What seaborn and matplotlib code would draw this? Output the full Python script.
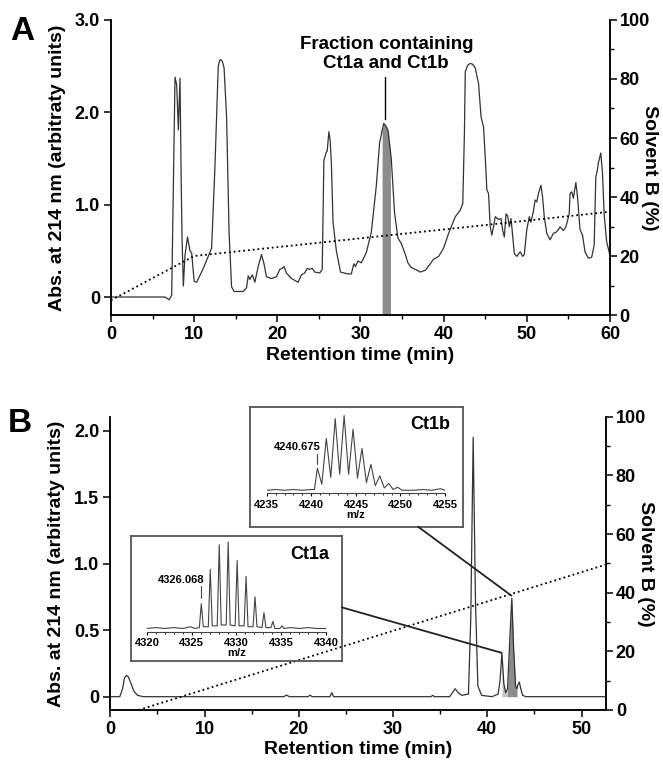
import numpy as np
import pandas as pd
import seaborn as sns
from matplotlib import pyplot as plt
from matplotlib.patches import ConnectionPatch
from matplotlib.ticker import MultipleLocator

# Panel A: preparative chromatogram (time in min, absorbance)
t_a = [0, 6.5, 7.0, 7.3, 7.5, 7.7, 7.9, 8.1, 8.3, 8.45, 8.55, 8.7, 8.9, 9.2, 9.5, 9.7,
       10.0, 10.3, 11.1, 12.1, 12.5, 12.9, 13.05, 13.2, 13.4, 13.6, 13.9, 14.2, 14.5, 14.8,
       15.9, 16.3, 16.5, 16.7, 17.0, 17.3, 17.7, 18.1, 18.4, 18.7, 19.3, 19.9, 20.3, 20.6,
       20.8, 21.1, 21.7, 22.5, 22.9, 23.3, 23.6, 23.9, 24.2, 24.5, 25.1, 25.4, 25.6,
       25.9, 26.0, 26.2, 26.35, 26.5, 26.7, 27.1, 27.6, 28.5, 28.9, 29.2, 29.4, 29.7,
       30.1, 30.7, 31.3, 31.9, 32.3, 32.6, 32.8, 33.0, 33.3, 33.6, 33.7, 34.1, 34.5,
       34.9, 35.4, 35.7, 36.1, 36.8, 37.2, 37.8, 38.4, 38.8, 39.4, 40.0, 40.6, 41.4,
       42.0, 42.3, 42.5, 42.6, 42.9, 43.2, 43.5, 43.8, 44.2, 44.5, 44.8, 45.0, 45.2,
       45.4, 45.6, 45.8, 46.1, 46.2, 46.6, 46.9, 47.1, 47.3, 47.5, 47.7, 47.9, 48.1,
       48.2, 48.5, 48.8, 49.2, 49.5, 49.7, 50.0, 50.3, 50.5, 50.8, 51.0, 51.2, 51.4,
       51.7, 51.9, 52.1, 52.4, 52.8, 53.2, 53.5, 53.8, 54.0, 54.4, 54.7, 55.1, 55.2,
       55.4, 55.6, 55.9, 56.1, 56.4, 56.7, 57.0, 57.4, 57.8, 58.1, 58.3, 58.5, 58.6,
       58.9, 59.1, 59.3, 59.6, 60.0]
abs_a = [0.0, 0.0, -0.03, 0.02, 1.2, 2.38, 2.30, 1.81, 2.37, 1.2, 0.62, 0.12, 0.45, 0.65,
         0.5, 0.48, 0.17, 0.16, 0.31, 0.53, 1.41, 2.50, 2.56, 2.57, 2.55, 2.48, 1.95, 0.70,
         0.11, 0.06, 0.06, 0.10, 0.23, 0.19, 0.24, 0.16, 0.33, 0.46, 0.36, 0.22, 0.20,
         0.22, 0.30, 0.31, 0.33, 0.26, 0.20, 0.16, 0.24, 0.26, 0.31, 0.30, 0.31, 0.27,
         0.26, 0.30, 1.48, 1.57, 1.58, 1.79, 1.70, 1.45, 0.81, 0.50, 0.27, 0.25, 0.25,
         0.36, 0.33, 0.39, 0.37, 0.48, 0.70, 1.20, 1.67, 1.80, 1.88, 1.86, 1.81, 1.58,
         1.50, 0.91, 0.64, 0.58, 0.46, 0.37, 0.32, 0.29, 0.27, 0.29, 0.36, 0.41, 0.44,
         0.53, 0.69, 0.87, 0.94, 1.01, 1.78, 2.44, 2.51, 2.53, 2.52, 2.48, 2.31, 1.95,
         1.84, 1.52, 1.16, 1.12, 0.76, 0.67, 0.81, 0.87, 0.84, 0.85, 0.72, 0.65, 0.90,
         0.88, 0.76, 0.85, 0.76, 0.47, 0.44, 0.49, 0.44, 0.46, 0.73, 0.87, 0.81, 0.93,
         1.05, 1.03, 1.12, 1.21, 1.08, 0.87, 0.69, 0.62, 0.69, 0.70, 0.73, 0.76, 0.72,
         0.76, 0.90, 1.12, 1.14, 1.07, 1.24, 1.08, 0.73, 0.67, 0.49, 0.42, 0.43, 0.56,
         1.30, 1.38, 1.45, 1.56, 1.34, 0.90, 0.60, 0.45]
grad_t_a = [0, 10, 60]
grad_b_a = [5, 20, 35]
fraction_a = (32.6, 33.6)

# Panel B: analytical chromatogram
t_b = [0, 1.0, 1.3, 1.5, 1.7, 1.9, 2.2, 2.5, 2.9, 3.5, 18.4, 18.7, 19.0, 21.0, 21.2, 21.4,
       23.3, 23.5, 23.7, 34.0, 34.2, 34.4, 36.0, 36.3, 36.6, 36.9, 37.3, 38.0, 38.25,
       38.5, 38.75, 39.0, 39.4, 40.5, 41.15, 41.35, 41.55, 41.75, 41.95, 42.15, 42.4,
       42.6, 42.8, 43.0, 43.15, 43.25, 43.4, 43.55, 43.75, 44.1, 53.0]
abs_b = [0.0, 0.0, 0.06, 0.14, 0.16, 0.15, 0.10, 0.04, 0.01, 0.0, 0.0, 0.012, 0.0, 0.0,
         0.012, 0.0, 0.0, 0.03, 0.0, 0.0, 0.01, 0.0, 0.0, 0.03, 0.06, 0.03, 0.01, 0.02,
         0.6, 1.95, 0.7, 0.08, 0.01, 0.0, 0.02, 0.12, 0.33, 0.10, 0.03, 0.06, 0.45, 0.74,
         0.35, 0.08, 0.06, 0.09, 0.11, 0.06, 0.01, 0.0, 0.0]
grad_t_b = [3, 53]
grad_b_b = [0, 50]
fill_light_b = (41.55, 42.15)
fill_dark_b = (42.15, 43.2)

# Mass spectra insets (m/z, relative intensity)
mz_a = [4320.0, 4321.0, 4322.0, 4323.0, 4324.0, 4324.9, 4325.3, 4325.85, 4326.07, 4326.29,
        4326.85, 4327.07, 4327.29, 4327.85, 4328.07, 4328.29, 4328.85, 4329.07, 4329.29,
        4329.85, 4330.07, 4330.29, 4330.85, 4331.07, 4331.29, 4331.85, 4332.07, 4332.29,
        4332.85, 4333.07, 4333.29, 4333.85, 4334.07, 4334.29, 4334.85, 4335.07, 4335.29,
        4336.0, 4337.0, 4338.0, 4339.0, 4340.0]
int_a = [2, 3, 2, 3, 2, 4, 2, 3, 30, 4, 4, 69, 5, 5, 97, 6, 6, 100, 6, 5, 79, 5, 5, 61, 4,
         4, 38, 4, 3, 20, 3, 3, 10, 2, 2, 5, 2, 3, 2, 3, 2, 2]
mz_b = [4235.0, 4236.0, 4237.0, 4238.0, 4239.0, 4240.0, 4240.35, 4240.68, 4241.18, 4241.68,
        4242.18, 4242.68, 4243.18, 4243.68, 4244.18, 4244.68, 4245.18, 4245.68, 4246.18,
        4246.68, 4247.18, 4247.68, 4248.18, 4248.68, 4249.18, 4249.68, 4250.18, 4250.68,
        4251.5, 4252.5, 4253.5, 4254.5, 4255.0]
int_b = [2, 3, 2, 3, 2, 3, 3, 31, 10, 70, 19, 96, 23, 100, 23, 82, 18, 57, 12, 36, 8, 21,
         5, 11, 3, 6, 2, 2, 2, 3, 2, 4, 2]

sns.set_theme(style='ticks')
plt.rcParams['font.family'] = ['Liberation Sans', 'DejaVu Sans']
plt.rcParams['font.weight'] = 'bold'
plt.rcParams['axes.labelweight'] = 'bold'
plt.rcParams['text.color'] = 'black'
plt.rcParams['axes.labelcolor'] = 'black'
plt.rcParams['axes.edgecolor'] = 'black'
plt.rcParams['xtick.color'] = 'black'
plt.rcParams['ytick.color'] = 'black'
plt.rcParams['axes.linewidth'] = 1.1
plt.rcParams['xtick.major.width'] = 1.1
plt.rcParams['ytick.major.width'] = 1.1
plt.rcParams['xtick.minor.width'] = 1.0
plt.rcParams['ytick.minor.width'] = 1.0

line_col = '#333333'
fig = plt.figure(figsize=(6.63, 7.6), dpi=100)


def style_main(ax, ax2, xmax, xmajor):
    ax.set_xlim(0, xmax)
    ax.xaxis.set_major_locator(MultipleLocator(xmajor))
    ax.xaxis.set_minor_locator(MultipleLocator(xmajor / 2))
    ax.tick_params(axis='both', which='major', length=5, width=1.1, labelsize=13, pad=3)
    ax.tick_params(axis='x', which='minor', length=3)
    ax.spines['top'].set_visible(False)
    ax2.spines['top'].set_visible(False)
    ax2.set_ylim(0, 100)
    ax2.yaxis.set_major_locator(MultipleLocator(20))
    ax2.yaxis.set_minor_locator(MultipleLocator(10))
    ax2.tick_params(axis='y', which='major', length=5, labelsize=13, pad=2)
    ax2.tick_params(axis='y', which='minor', length=3)
    ax.set_xlabel('Retention time (min)', fontsize=14, va='center')
    ax.xaxis.set_label_coords(0.5, -0.136)
    ax.set_ylabel('Abs. at 214 nm (arbitraty units)', fontsize=14, va='center')
    ax.yaxis.set_label_coords(-0.108, 0.5)
    ax2.set_ylabel('Solvent B (%)', fontsize=14, rotation=270, va='center')
    ax2.yaxis.set_label_coords(1.080, 0.5)


# ---------------- Panel A ----------------
ax_a = fig.add_axes([0.1674, 0.5855, 0.7526, 0.3882])
ax_a2 = ax_a.twinx()
sns.lineplot(x=t_a, y=abs_a, ax=ax_a, color=line_col, lw=0.9, sort=False)
ta = np.array(t_a)
ax_a.fill_between(ta, -0.195, abs_a, where=(ta >= fraction_a[0]) & (ta <= fraction_a[1]),
                  color='#8c8c8c', lw=0)
sns.lineplot(x=grad_t_a, y=grad_b_a, ax=ax_a2, color='black', lw=1.3, linestyle=':')
ax_a.set_ylim(-0.195, 3.0)
ax_a.set_yticks([0, 1, 2, 3], ['0', '1.0', '2.0', '3.0'])
style_main(ax_a, ax_a2, 60, 10)
ax_a.plot([33.0, 33.0], [1.93, 2.38], color='black', lw=1.0)
ax_a.text(33.1, 2.44, 'Fraction containing\nCt1a and Ct1b', ha='center', va='bottom',
          fontsize=13.5, linespacing=1.15)
fig.text(0.015, 1 - 40 / 760, 'A', fontsize=24, fontweight='bold', va='baseline')

# ---------------- Panel B ----------------
ax_b = fig.add_axes([0.1664, 0.0658, 0.7477, 0.3859])
ax_b2 = ax_b.twinx()
sns.lineplot(x=t_b, y=abs_b, ax=ax_b, color=line_col, lw=0.9, sort=False)
tb = np.array(t_b)
ax_b.fill_between(tb, 0, abs_b, where=(tb >= fill_light_b[0]) & (tb <= fill_light_b[1]),
                  color='#c4c4c4', lw=0)
ax_b.fill_between(tb, 0, abs_b, where=(tb >= fill_dark_b[0]) & (tb <= fill_dark_b[1]),
                  color='#8c8c8c', lw=0)
sns.lineplot(x=grad_t_b, y=grad_b_b, ax=ax_b2, color='black', lw=1.3, linestyle=':')
ax_b.set_ylim(-0.1, 2.105)
ax_b.set_yticks([0, 0.5, 1.0, 1.5, 2.0], ['0', '0.5', '1.0', '1.5', '2.0'])
style_main(ax_b, ax_b2, 52.6, 10)
fig.text(0.012, 1 - 432 / 760, 'B', fontsize=24, fontweight='bold', va='baseline')


def inset(box_rect, spec_rect, mz, inten, xlo, xhi, title, title_xy, mono, mono_txt_xy):
    box = fig.add_axes(box_rect)
    box.set_facecolor('none')
    box.set_xticks([])
    box.set_yticks([])
    for s in box.spines.values():
        s.set_color('#555555')
        s.set_linewidth(1.3)
        s.set_visible(True)
    sp = fig.add_axes(spec_rect)
    sp.set_facecolor('none')
    sns.lineplot(x=mz, y=inten, ax=sp, color='#444444', lw=0.8, sort=False)
    sp.set_xlim(xlo, xhi)
    sp.set_ylim(-2, 102)
    sp.set_yticks([])
    for s in ['top', 'left', 'right']:
        sp.spines[s].set_visible(False)
    sp.spines['bottom'].set_linewidth(0.8)
    sp.spines['bottom'].set_color('#444444')
    sp.xaxis.set_major_locator(MultipleLocator(5))
    sp.xaxis.set_minor_locator(MultipleLocator(1))
    sp.tick_params(axis='x', which='major', length=2.5, width=0.8, labelsize=8, pad=2)
    sp.tick_params(axis='x', which='minor', length=1.2, width=0.6)
    sp.set_xlabel('m/z', fontsize=8, labelpad=0)
    sp.text(mono_txt_xy[0], mono_txt_xy[1], f'{mono:.3f}', fontsize=8, ha='center',
            va='center')
    sp.plot([mono, mono], [36, 50], color='#444444', lw=0.8)
    fig.text(title_xy[0], title_xy[1], title, fontsize=13, fontweight='bold',
             ha='center', va='center')
    return box


box_b = inset([0.3771, 0.3070, 0.3208, 0.1579], [0.4023, 0.3509, 0.2690, 0.1043],
              mz_b, int_b, 4235, 4255, 'Ct1b', (0.6493, 0.4414), 4240.675, (4238.4, 59))
box_a = inset([0.1976, 0.1303, 0.3178, 0.1641], [0.2217, 0.1684, 0.2700, 0.1207],
              mz_a, int_a, 4320, 4340, 'Ct1a', (0.4668, 0.2704), 4326.068, (4323.8, 57))

for box, xy_box, xy_peak in [(box_b, (0.79, 0.0), (42.55, 0.76)),
                             (box_a, (1.0, 0.43), (41.5, 0.33))]:
    con = ConnectionPatch(xyA=xy_box, coordsA=box.transAxes, xyB=xy_peak,
                          coordsB=ax_b.transData, color='#222222', lw=1.3)
    fig.add_artist(con)

fig.savefig('out.png', dpi=100)
